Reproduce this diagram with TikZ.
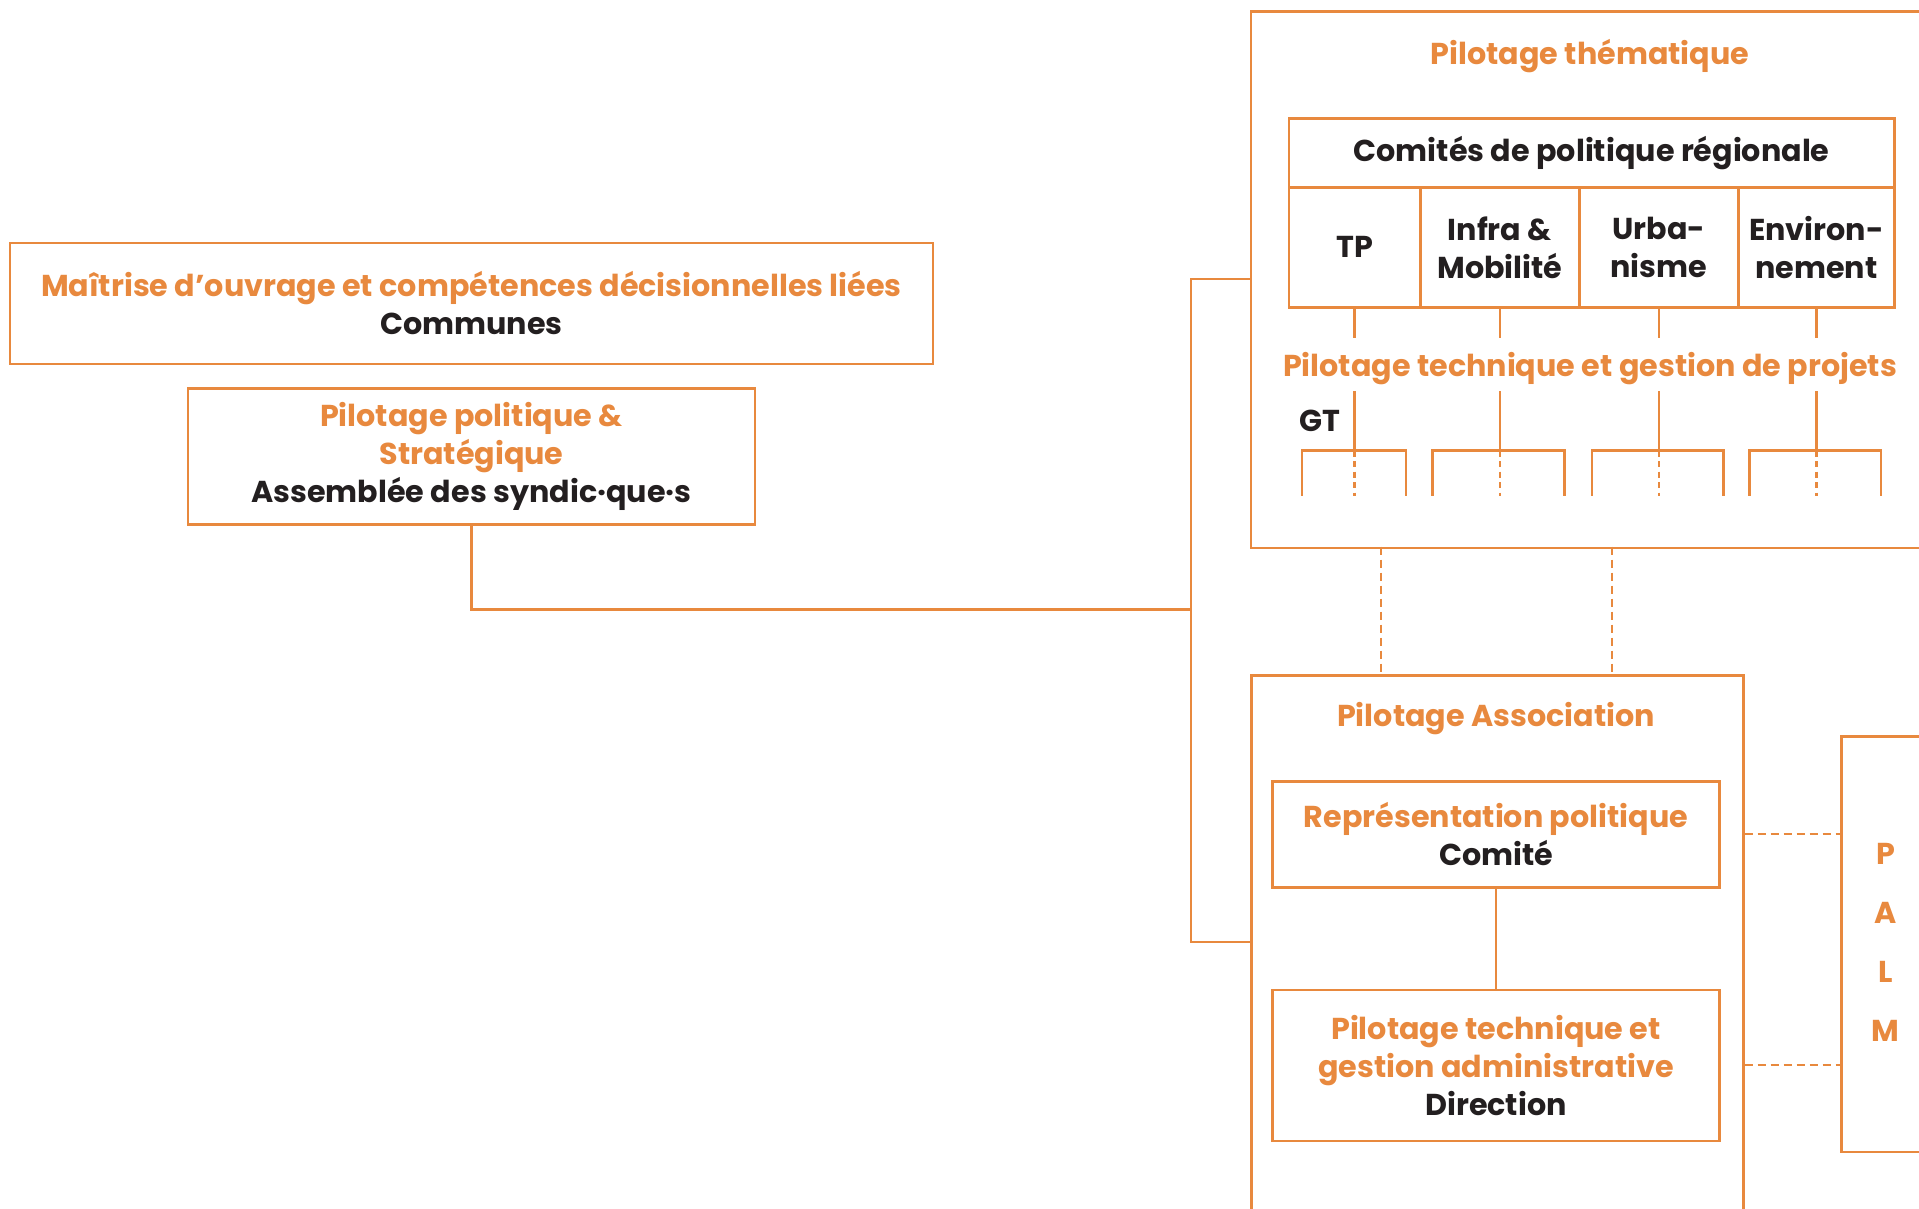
\documentclass[tikz,border=0pt]{standalone}
\usepackage{fontspec}
\usetikzlibrary{calc}
\setmainfont{Poppins}
\definecolor{org}{RGB}{232,137,62}
\definecolor{ink}{RGB}{35,31,32}
\newcommand{\fs}{\fontsize{30.2}{38}\selectfont\bfseries}
\begin{document}
\begin{tikzpicture}[x=1pt,y=-1pt,
  ln/.style={draw=org, line width=2.6pt},
  dsh/.style={draw=org, line width=2.4pt, dash pattern=on 8pt off 5pt},
  frame/.style={draw=org, line width=2.6pt, inner sep=0pt, anchor=north west},
  box/.style={draw=org, line width=2.6pt, inner sep=0pt, align=center,
    font=\fs, text=ink},
  lbl/.style={inner sep=0pt, align=center, font=\fs},
]
\useasboundingbox (0,0) rectangle (1919,1208);
\clip (0,0) rectangle (1919,1208);

% left boxes
\node[box, minimum width=923pt, minimum height=121pt] (communes) at (471.4,303.5)
  {\textcolor{org}{Maîtrise d’ouvrage et compétences décisionnelles liées}\\Communes};
\node[box, minimum width=567pt, minimum height=136pt] (pol) at (471.5,456.5)
  {\textcolor{org}{Pilotage politique \&}\\\textcolor{org}{Stratégique}\\Assemblée des syndic·que·s};

% thematic frame
\node[frame, minimum width=690pt, minimum height=536.5pt] (them) at (1249.6,10) {};
\node[lbl, text=org] (themt) at (1590,56.5) {Pilotage thématique};
\node[box, anchor=north west, minimum width=605.4pt, minimum height=69pt] (hdr) at (1287.6,117) {Comités de politique régionale};
\node[box, anchor=north west, minimum width=131.4pt, minimum height=120pt] (tp) at (1287.6,186) {TP};
\node[box, anchor=north west, minimum width=159pt, minimum height=120pt] (infra) at (1419,186) {Infra \&\\Mobilité};
\node[box, anchor=north west, minimum width=159pt, minimum height=120pt] (urba) at (1578,186) {Urba-\\nisme};
\node[box, anchor=north west, minimum width=156pt, minimum height=120pt] (env) at (1737,186) {Environ-\\nement};
\node[lbl, text=org] (ptgp) at (1590,368.5) {Pilotage technique et gestion de projets};
\node[lbl, text=ink] (gt) at (1320,421) {GT};

% trees under the columns
\foreach \c/\l/\r in {tp/1302/1406, infra/1432.7/1564.4, urba/1592/1723.3, env/1749.3/1881}{
  \coordinate (\c-a) at ($(\c.south)+(0,29)$);
  \draw[ln] (\c.south) -- (\c-a);
  \coordinate (\c-b) at (\c.south |- 0,391);
  \coordinate (\c-c) at (\c.south |- 0,450.7);
  \coordinate (\c-L) at (\l,495.7);
  \coordinate (\c-R) at (\r,495.7);
  \draw[ln] (\c-b) -- (\c-c);
  \draw[ln] (\c-L) |- (\c-c) -| (\c-R);
  \draw[dsh, dash pattern=on 6pt off 4.5pt] (\c-c) -- (\c.south |- \c-L);
}

% association frame
\node[frame, minimum width=492pt, minimum height=560pt] (assoc) at (1250,674.2) {};
\node[lbl, text=org] (assoct) at (1496,719) {Pilotage Association};
\node[box, minimum width=447pt, minimum height=106pt] (repr) at (1496,834.2)
  {\textcolor{org}{Représentation politique}\\Comité};
\node[box, minimum width=447pt, minimum height=151pt] (dir) at (1496,1065.5)
  {\textcolor{org}{Pilotage technique et}\\\textcolor{org}{gestion administrative}\\Direction};
\draw[ln] (repr.south) -- (dir.north);

% PALM frame
\node[frame, minimum width=100pt, minimum height=415.5pt] (palm) at (1840,735) {};
\node[lbl, text=org, font=\fontsize{30.2}{59}\selectfont\bfseries] (palmt) at (1885.5,942) {P\\A\\L\\M};
\draw[dsh] (assoc.east |- 0,834) -- (palm.west |- 0,834);
\draw[dsh] (assoc.east |- 0,1065) -- (palm.west |- 0,1065);

% dashed links thematic -- association
\draw[dsh] (1380.7,546.5) -- (assoc.north -| 1380.7,0);
\draw[dsh] (1611.8,546.5) -- (assoc.north -| 1611.8,0);

% bus
\coordinate (bt) at (1190.8,279);
\coordinate (bm) at (1190.8,609.5);
\coordinate (bb) at (1190.8,942);
\draw[ln] (them.west |- bt) -- (bt) -- (bb) -- (assoc.west |- bb);
\draw[ln] (pol.south) |- (bm);
\end{tikzpicture}
\end{document}
